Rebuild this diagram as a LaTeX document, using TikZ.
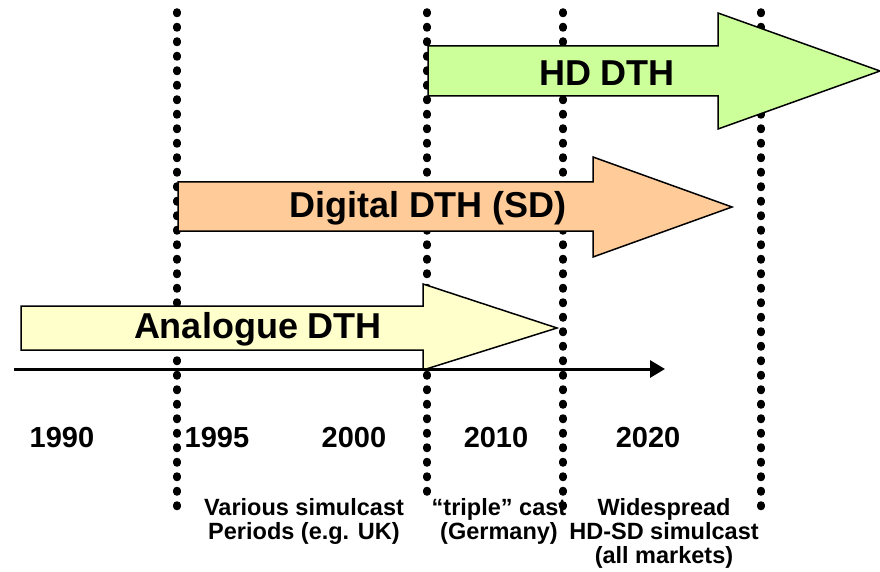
\documentclass[tikz,border=0pt]{standalone}
\usepackage{fontspec}
\setmainfont{Liberation Sans}
\usetikzlibrary{arrows.meta}

\definecolor{hdgreen}{RGB}{204,255,153}
\definecolor{sdorange}{RGB}{255,204,153}
\definecolor{anayellow}{RGB}{255,255,204}

\tikzset{
  band/.style={draw=black, line width=1.5pt},
  period/.style={line width=7.5pt, line cap=round, dash pattern=on 1.5pt off 13pt},
  timeline/.style={line width=3pt, -{Triangle[length=15pt,width=17pt]}},
  bandtext/.style={font=\bfseries\fontsize{36}{40}\selectfont},
  yeartext/.style={font=\bfseries\fontsize{29}{32}\selectfont},
  notetext/.style={font=\bfseries\fontsize{23.5}{24}\selectfont, align=center}
}

\begin{document}
\begin{tikzpicture}[x=1pt,y=-1pt]
\useasboundingbox (0,0) rectangle (880,572);

%period boundaries
\foreach \px/\py in {177/513, 427/503, 563/510, 761/507}
  \draw[period] (\px,12) -- (\px,\py);

%HD arrow
\draw[band, fill=hdgreen] (428,46) -- (718,46) -- (718,13) -- (880,71)
  -- (718,129) -- (718,96) -- (428,96) -- cycle;
%SD arrow
\draw[band, fill=sdorange] (178,182) -- (593,182) -- (593,157) -- (732,207)
  -- (593,257) -- (593,231) -- (178,231) -- cycle;
%analogue arrow
\draw[band, fill=anayellow] (21,306) -- (423,306) -- (423,284) -- (557,328)
  -- (423,370) -- (423,350) -- (21,350) -- cycle;

%arrow text
\node[bandtext] (hd) at (607,73) {HD DTH};
\node[bandtext] (sd) at (428,208) {Digital DTH (SD)};
\node[bandtext] (ana) at (258,329) {Analogue DTH};

%time axis
\coordinate (t0) at (14,369);
\coordinate (t1) at (665,369);
\draw[timeline] (t0) -- (t1);

%years
\node[yeartext] (y1990) at (62,438) {1990};
\node[yeartext] (y1995) at (217,438) {1995};
\node[yeartext] (y2000) at (354,438) {2000};
\node[yeartext] (y2010) at (496,438) {2010};
\node[yeartext] (y2020) at (648,438) {2020};

%simulcast notes
\node[notetext] (uk) at (304,521) {Various simulcast\\Periods (e.g. UK)};
\node[notetext] (de) at (499,521) {“triple” cast\\(Germany)};
\node[notetext] (all) at (664,533) {Widespread\\HD-SD simulcast\\(all markets)};

\end{tikzpicture}
\end{document}
